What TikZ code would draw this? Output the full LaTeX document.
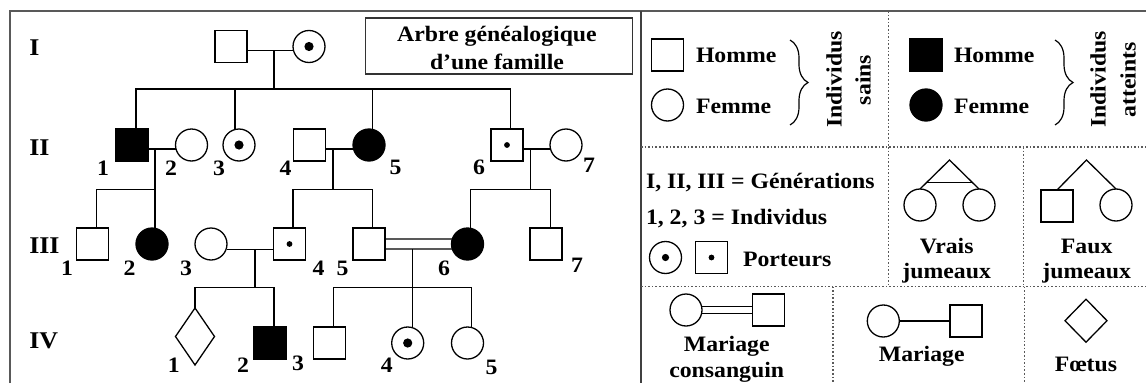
\documentclass[tikz,border=0pt]{standalone}
\usepackage{fontspec}
\setmainfont{Liberation Serif}[FakeStretch=1.08]
\usetikzlibrary{shapes.geometric,decorations.pathreplacing,calc}
\begin{document}
\begin{tikzpicture}[x=1pt,y=-1pt,
  every node/.style={inner sep=0pt, outer sep=0pt, font=\bfseries\fontsize{22}{26}\selectfont},
  sym/.style={draw=black, line width=1.3pt, inner sep=0pt},
  male/.style={sym, rectangle, minimum size=32pt},
  female/.style={sym, circle, minimum size=32pt},
  aff/.style={fill=black},
  cdot/.style={path picture={\fill[black] (path picture bounding box.center) circle (4.6pt);}},
  cdotsmall/.style={path picture={\fill[black] (path picture bounding box.center) circle (3.6pt);}},
  sdot/.style={path picture={\fill[black] (path picture bounding box.center) circle (2.9pt);}},
  fetus/.style={sym, diamond, minimum width=39pt, minimum height=57pt},
  link/.style={line width=1.3pt},
  gen/.style={anchor=west, font=\bfseries\fontsize{24}{28}\selectfont},
  frame/.style={draw=black!65, line width=2pt},
  dots/.style={draw=black!65, line width=1.6pt, dash pattern=on 1.6pt off 2pt},
  lab/.style={anchor=base west},
  clab/.style={anchor=base},
]
\useasboundingbox (0,0) rectangle (1146,383);
% frames
\draw[frame] (10,383) -- (10,11) -- (1146,11);
\draw[frame, line width=2.6pt, draw=black!75] (641,11) -- (641,383);
% title
\node[draw=black!80, line width=1.5pt, minimum width=267pt, minimum height=56pt] (title) at (499.2,46) {};
\node[clab] at (497,41.7) {Arbre généalogique};
\node[clab] at (497,69) {d’une famille};
% generation labels
\node[gen] (gI) at (29.3,48) {I};
\node[gen] (gII) at (29.3,148) {II};
\node[gen] (gIII) at (29.3,245.5) {III};
\node[gen] (gIV) at (29.3,341) {IV};
% generation I
\node[male] (I1) at (231,46.5) {};
\node[female,cdot] (I2) at (309,46.5) {};
% generation II
\node[male,aff] (II1) at (132,145) {};
\node[female] (II2) at (191.5,145) {};
\node[female,cdot] (II3) at (239,145) {};
\node[male] (II4) at (309.5,145) {};
\node[female,aff] (II5) at (369,145) {};
\node[male,sdot] (II6) at (507,145) {};
\node[female] (II7) at (566,145) {};
% generation III
\node[male] (III1) at (92.5,244) {};
\node[female,aff] (III2) at (152,244) {};
\node[female] (III3) at (211,244) {};
\node[male,sdot] (III4) at (289.5,244) {};
\node[male] (III5) at (369,244) {};
\node[female,aff] (III6) at (467.5,244) {};
\node[male] (III7) at (546,244) {};
% generation IV
\node[fetus] (IV1) at (195,336.5) {};
\node[male,aff] (IV2) at (270,343) {};
\node[male] (IV3) at (329.5,343) {};
\node[female,cdot] (IV4) at (407.7,343) {};
\node[female] (IV5) at (467.5,343) {};
% numbers
\node at (103,168.5) {1};
\node at (171,168.5) {2};
\node at (219,168.5) {3};
\node at (285.5,168.5) {4};
\node at (395.5,167.5) {5};
\node at (479,167.5) {6};
\node at (589,165) {7};
\node at (67,268) {1};
\node at (129.5,268) {2};
\node at (186,268) {3};
\node at (318.5,268) {4};
\node at (342.5,268) {5};
\node at (444,268) {6};
\node at (577,265.5) {7};
\node at (173.7,365) {1};
\node at (243,365) {2};
\node at (298,363.7) {3};
\node at (386.7,365) {4};
\node at (491.5,367) {5};
% connectors generation I
\draw[link] ([yshift=-4pt]I1.east) -- ([yshift=-4pt]I2.west);
\coordinate (mI) at (274,50.5);
\draw[link] (mI) -- ++(0,38.5) coordinate (sI);
\draw[link] (sI) -| ([xshift=4pt]II1.north);
\draw[link] (sI) -| ([xshift=-4pt]II3.north);
\draw[link] (sI) -| ([xshift=3.7pt]II5.north);
\draw[link] (sI) -| ([xshift=3.7pt]II6.north);
% generation II couples
\draw[link] ([yshift=-4pt]II1.east) -- ([yshift=-4pt]II2.west);
\coordinate (m12) at (155,149);
\draw[link] (m12) -- ++(0,40.3) coordinate (s12);
\draw[link] (s12) -| ([xshift=4pt]III1.north);
\draw[link] (s12) -| ([xshift=3pt]III2.north);
\draw[link] ([yshift=-4pt]II4.east) -- ([yshift=-4pt]II5.west);
\coordinate (m45) at (333,149);
\draw[link] (m45) -- ++(0,40.3) coordinate (s45);
\draw[link] (s45) -| ([xshift=3.5pt]III4.north);
\draw[link] (s45) -| ([xshift=3.7pt]III5.north);
\draw[link] ([yshift=-4pt]II6.east) -- ([yshift=-4pt]II7.west);
\coordinate (m67) at (530.7,149);
\draw[link] (m67) -- ++(0,40.3) coordinate (s67);
\draw[link] (s67) -| ([xshift=3.2pt]III6.north);
\draw[link] (s67) -| ([xshift=4.7pt]III7.north);
% generation III couples
\draw[link] ([yshift=-5.3pt]III3.east) -- ([yshift=-5.3pt]III4.west);
\coordinate (m34) at (255,249.3);
\draw[link] (m34) -- ++(0,38) coordinate (s34);
\draw[link] (s34) -| (IV1.north);
\draw[link] (s34) -| ([xshift=4pt]IV2.north);
\draw[link] ([yshift=5pt]III5.east) -- (III6.162);
\draw[link] ([yshift=-5pt]III5.east) -- (III6.198);
\coordinate (m56) at (412.7,249);
\draw[link] (m56) -- ++(0,38.3) coordinate (s56);
\draw[link] (s56) -| ([xshift=4pt]IV3.north);
\draw[link] (s56) -| ([xshift=5pt]IV4.north);
\draw[link] (s56) -| ([xshift=4pt]IV5.north);
% ---------- legend ----------
\draw[dots] (888.5,11) -- (888.5,147);
\draw[dots] (641,147) -- (1146,147);
\draw[dots] (888.5,147) -- (888.5,286.5);
\draw[dots] (1023.5,147) -- (1023.5,286.5);
\draw[dots] (641,286.5) -- (1146,286.5);
\draw[dots] (832.7,286.5) -- (832.7,383);
\draw[dots] (1024.3,286.5) -- (1024.3,383);
% healthy
\node[male] (LH) at (667.5,55) {};
\node[female] (LF) at (667.5,105) {};
\node[lab] at (696,62.3) {Homme};
\node[lab] at (696,113.3) {Femme};
\draw[line width=1.2pt, decorate, decoration={brace, amplitude=18pt}] (790,40) -- (790,125);
\node[rotate=90] at (834,79.5) {Individus};
\node[rotate=90] at (863,80) {sains};
% affected
\node[male,aff] (LH2) at (926,55) {};
\node[female,aff] (LF2) at (926,105) {};
\node[lab] at (954,62.3) {Homme};
\node[lab] at (954,113.3) {Femme};
\draw[line width=1.2pt, decorate, decoration={brace, amplitude=18pt}] (1055,40) -- (1055,125);
\node[rotate=90] at (1098,79.5) {Individus};
\node[rotate=90] at (1128,80) {atteints};
% generations / carriers
\node[lab] at (646,188.3) {I, II, III = Générations};
\node[lab] at (646,224.3) {1, 2, 3 = Individus};
\node[female,cdotsmall] (LC) at (665.5,257.5) {};
\node[male,sdot] (LS) at (711.5,257.5) {};
\node[lab] at (743,266.7) {Porteurs};
% vrais jumeaux
\node[female] (V1) at (920,205) {};
\node[female] (V2) at (979,205) {};
\coordinate (VA) at (949.5,160);
\draw[link] (V1.north) -- (VA) -- (V2.north);
\draw[link] ($(VA)!0.78!(V1.north)$) -- ($(VA)!0.78!(V2.north)$);
\node[clab] at (946.7,253.3) {Vrais};
\node[clab] at (946.7,278.3) {jumeaux};
% faux jumeaux
\node[male] (F1) at (1057,206) {};
\node[female] (F2) at (1116,205) {};
\coordinate (FA) at (1086.5,160);
\draw[link] (F1.north) -- (FA) -- (F2.north);
\node[clab] at (1086.7,253.3) {Faux};
\node[clab] at (1086.7,278.3) {jumeaux};
% mariage consanguin
\node[female] (MC1) at (686,310) {};
\node[male] (MC2) at (768.5,310) {};
\draw[link] ([yshift=3.6pt]MC1.east) -- ([yshift=3.6pt]MC2.west);
\draw[link] ([yshift=-3.6pt]MC1.east) -- ([yshift=-3.6pt]MC2.west);
\node[clab] at (726.7,351.7) {Mariage};
\node[clab] at (726.7,377.3) {consanguin};
% mariage
\node[female] (M1) at (883.3,321) {};
\node[male] (M2) at (966,321) {};
\draw[link] (M1) -- (M2);
\node[clab] at (921.7,361.7) {Mariage};
% foetus
\node[sym, diamond, minimum width=42pt, minimum height=43pt] (FE) at (1086,320.7) {};
\node[clab] at (1086,371.7) {Fœtus};
\end{tikzpicture}
\end{document}
